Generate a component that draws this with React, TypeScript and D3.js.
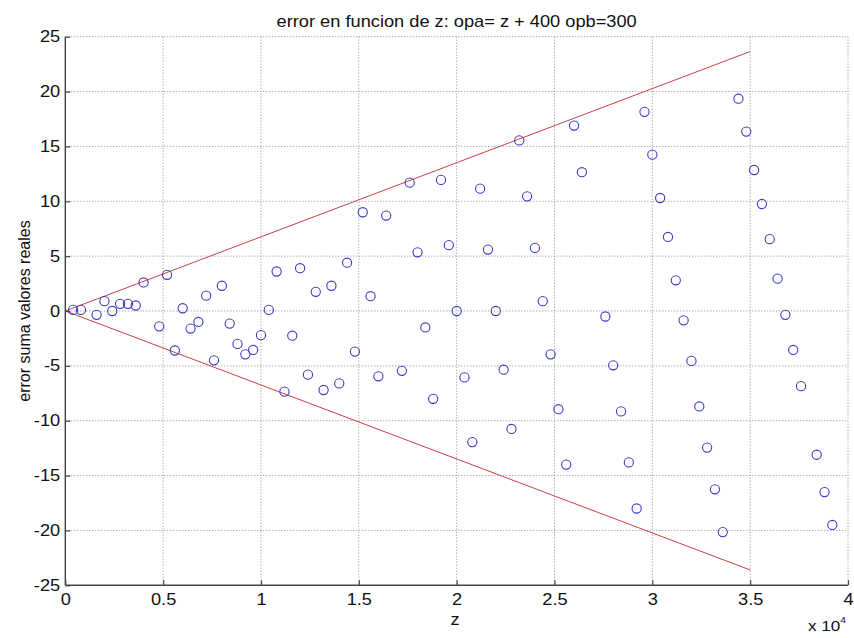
import { useRef, useEffect } from "react";
import * as d3 from "d3";

// z values (plotted in units of 10^4 on the axis)
const zValues = [
  400, 800, 1600, 2000, 2400, 2800, 3200, 3600, 4000, 4800, 5200, 5600, 6000,
  6400, 6800, 7200, 7600, 8000, 8400, 8800, 9200, 9600, 10000, 10400, 10800,
  11200, 11600, 12000, 12400, 12800, 13200, 13600, 14000, 14400, 14800, 15200,
  15600, 16000, 16400, 17200, 17600, 18000, 18400, 18800, 19200, 19600, 20000,
  20400, 20800, 21200, 21600, 22000, 22400, 22800, 23200, 23600, 24000, 24400,
  24800, 25200, 25600, 26000, 26400, 27600, 28000, 28400, 28800, 29200, 29600,
  30000, 30400, 30800, 31200, 31600, 32000, 32400, 32800, 33200, 33600, 34400,
  34800, 35200, 35600, 36000, 36400, 36800, 37200, 37600, 38400, 38800, 39200,
];

const errValues = [
  0.1, 0.1, -0.35, 0.9, 0.0, 0.65, 0.65, 0.5, 2.6, -1.4, 3.3, -3.6, 0.25,
  -1.6, -1.0, 1.4, -4.5, 2.3, -1.15, -3.0, -3.95, -3.55, -2.2, 0.1, 3.6,
  -7.35, -2.25, 3.9, -5.8, 1.75, -7.2, 2.3, -6.6, 4.4, -3.7, 9.0,
  1.35, -5.95, 8.7, -5.45, 11.7, 5.35, -1.5, -8.0, 11.95, 6.0, 0.0,
  -6.05, -11.95, 11.15, 5.6, 0.0, -5.35, -10.75, 15.55, 10.45, 5.75, 0.9,
  -3.95, -8.95, -14.0, 16.9, 12.65, -0.5, -4.95, -9.15, -13.8, -18.0, 18.15,
  14.25, 10.3, 6.75, 2.8, -0.85, -4.55, -8.7, -12.45, -16.25, -20.15, 19.35,
  16.35, 12.85, 9.75, 6.55, 2.95, -0.35, -3.55, -6.85, -13.1, -16.5, -19.5,
];

// bounding lines (red)
const upperLine: [number, number][] = [[0, 0], [35000, 23.65]];
const lowerLine: [number, number][] = [[0, 0], [35000, -23.6]];

const xTicks = [0, 5000, 10000, 15000, 20000, 25000, 30000, 35000, 40000];
const yTicks = [-25, -20, -15, -10, -5, 0, 5, 10, 15, 20, 25];

const titleText = "error en funcion de z: opa= z + 400 opb=300";
const xLabel = "z";
const yLabel = "error suma valores reales";

export default function App() {
  const svgRef = useRef<SVGSVGElement>(null);
  const width = 854;
  const height = 638;

  useEffect(() => {
    const margin = { top: 36.7, right: 6, bottom: 52.7, left: 65.3 };
    const innerWidth = width - margin.left - margin.right;
    const innerHeight = height - margin.top - margin.bottom;

    const svg = d3.select(svgRef.current);
    svg.selectAll("*").remove();

    svg.append("rect").attr("width", width).attr("height", height).attr("fill", "#fff");

    const g = svg
      .append("g")
      .attr("transform", `translate(${margin.left}, ${margin.top})`);

    const xScale = d3.scaleLinear().domain([0, 40000]).range([0, innerWidth]);
    const yScale = d3.scaleLinear().domain([-25, 25]).range([innerHeight, 0]);

    const font = "Liberation Sans, Arial, sans-serif";
    const stretch = "scale(1.14,1)"; // the source text is a bit wider than Arial

    // dotted grid
    g.append("g")
      .selectAll("line")
      .data(xTicks.slice(1))
      .enter()
      .append("line")
      .attr("x1", (d) => xScale(d))
      .attr("x2", (d) => xScale(d))
      .attr("y1", 0)
      .attr("y2", innerHeight)
      .attr("stroke", "#8a8a8a")
      .attr("stroke-width", 1)
      .attr("stroke-dasharray", "1 2");

    g.append("g")
      .selectAll("line")
      .data(yTicks.slice(1))
      .enter()
      .append("line")
      .attr("x1", 0)
      .attr("x2", innerWidth)
      .attr("y1", (d) => yScale(d))
      .attr("y2", (d) => yScale(d))
      .attr("stroke", "#8a8a8a")
      .attr("stroke-width", 1)
      .attr("stroke-dasharray", "1 2");

    // red boundary lines
    const line = d3
      .line<[number, number]>()
      .x((d) => xScale(d[0]))
      .y((d) => yScale(d[1]));

    [upperLine, lowerLine].forEach((l) => {
      g.append("path")
        .attr("d", line(l))
        .attr("fill", "none")
        .attr("stroke", "#d04040")
        .attr("stroke-width", 1);
    });

    // data points
    g.selectAll(".pt")
      .data(zValues.map((z, i) => [z, errValues[i]] as [number, number]))
      .enter()
      .append("circle")
      .attr("cx", (d) => xScale(d[0]))
      .attr("cy", (d) => yScale(d[1]))
      .attr("r", 4.6)
      .attr("fill", "none")
      .attr("stroke", "#3a3ac4")
      .attr("stroke-width", 1.1);

    // axes (MATLAB style: ticks inside)
    const xAxis = d3
      .axisBottom(xScale)
      .tickValues(xTicks)
      .tickSize(-5)
      .tickPadding(8)
      .tickFormat((d) => String(+d / 10000));
    const xg = g
      .append("g")
      .attr("transform", `translate(0, ${innerHeight})`)
      .call(xAxis);

    const yAxis = d3
      .axisLeft(yScale)
      .tickValues(yTicks)
      .tickSize(-5)
      .tickPadding(4.5)
      .tickFormat((d) => String(+d));
    const yg = g.append("g").call(yAxis);

    [xg, yg].forEach((ax) => {
      ax.select(".domain").attr("stroke", "#444").attr("stroke-width", 1.4);
      ax.selectAll(".tick line").attr("stroke", "#444").attr("stroke-width", 1.2);
      ax.selectAll(".tick text")
        .attr("fill", "#111")
        .attr("transform", stretch)
        .style("font-family", font)
        .style("font-size", "16px");
    });
    // keep end ticks of the domain flush
    xg.select(".domain").attr("d", `M0,0H${innerWidth}`);
    yg.select(".domain").attr("d", `M0,0V${innerHeight}`);

    // title
    svg
      .append("text")
      .attr("transform", `translate(${margin.left + innerWidth / 2}, 26.5) ${stretch}`)
      .attr("text-anchor", "middle")
      .style("font-family", font)
      .style("font-size", "16px")
      .attr("fill", "#111")
      .text(titleText);

    // x label
    svg
      .append("text")
      .attr("transform", `translate(455, 625) ${stretch}`)
      .attr("text-anchor", "middle")
      .style("font-family", font)
      .style("font-size", "16px")
      .attr("fill", "#111")
      .text(xLabel);

    // x 10^4 multiplier
    const mult = svg
      .append("text")
      .attr("transform", `translate(808, 631) ${stretch}`)
      .style("font-family", font)
      .style("font-size", "15px")
      .attr("fill", "#111");
    mult.append("tspan").text("x 10");
    mult
      .append("tspan")
      .attr("dy", -8)
      .style("font-size", "9px")
      .text("4");

    // y label
    svg
      .append("text")
      .attr("transform", `translate(${30}, ${margin.top + yScale(0)}) rotate(-90)`)
      .attr("text-anchor", "middle")
      .style("font-family", font)
      .style("font-size", "16px")
      .attr("fill", "#111")
      .text(yLabel);
  }, []);

  return (
    <svg
      ref={svgRef}
      width={width}
      height={height}
      style={{ position: "absolute", left: 0, top: 0 }}
    />
  );
}
